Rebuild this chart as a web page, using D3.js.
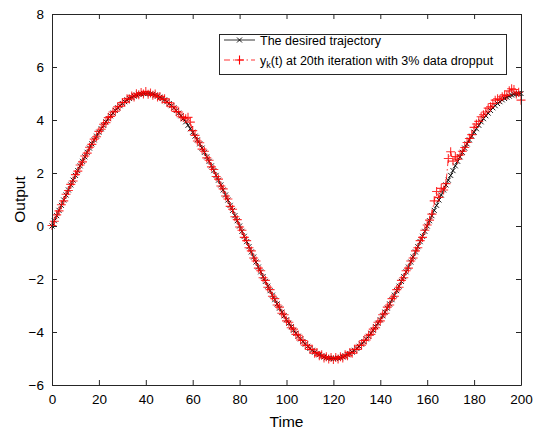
<!DOCTYPE html>
<html>
<head>
<meta charset="utf-8">
<script src="https://cdn.jsdelivr.net/npm/d3@7"></script>
<style>
  html, body { margin: 0; padding: 0; background: #fff; }
  svg { display: block; font-family: "Liberation Sans", Arial, sans-serif; }
</style>
</head>
<body>
<svg id="chart" width="533" height="433"></svg>
<script>
// time axis 0..200, one sample per step
const timeSteps = d3.range(0, 201);

const desired = [
    0, 0.20, 0.39, 0.59, 0.78, 0.98, 1.17, 1.36, 1.55, 1.73,
    1.91, 2.09, 2.27, 2.44, 2.61, 2.78, 2.94, 3.10, 3.25, 3.39,
    3.54, 3.67, 3.80, 3.93, 4.05, 4.16, 4.26, 4.36, 4.46, 4.54,
    4.62, 4.69, 4.76, 4.81, 4.86, 4.90, 4.94, 4.97, 4.98, 5.00, 5.00,
    5.00, 4.98, 4.97, 4.94, 4.90, 4.86, 4.81, 4.76, 4.69, 4.62,
    4.54, 4.46, 4.36, 4.26, 4.16, 4.05, 3.93, 3.80, 3.67, 3.54,
    3.39, 3.25, 3.10, 2.94, 2.78, 2.61, 2.44, 2.27, 2.09, 1.91,
    1.73, 1.55, 1.36, 1.17, 0.98, 0.78, 0.59, 0.39, 0.20, 0,
    -0.20, -0.39, -0.59, -0.78, -0.98, -1.17, -1.36, -1.55, -1.73, -1.91,
    -2.09, -2.27, -2.44, -2.61, -2.78, -2.94, -3.10, -3.25, -3.39, -3.54,
    -3.67, -3.80, -3.93, -4.05, -4.16, -4.26, -4.36, -4.46, -4.54, -4.62,
    -4.69, -4.76, -4.81, -4.86, -4.90, -4.94, -4.97, -4.98, -5.00, -5.00,
    -5.00, -4.98, -4.97, -4.94, -4.90, -4.86, -4.81, -4.76, -4.69, -4.62,
    -4.54, -4.46, -4.36, -4.26, -4.16, -4.05, -3.93, -3.80, -3.67, -3.54,
    -3.39, -3.25, -3.10, -2.94, -2.78, -2.61, -2.44, -2.27, -2.09, -1.91,
    -1.73, -1.55, -1.36, -1.17, -0.98, -0.78, -0.59, -0.39, -0.20, 0,
    0.20, 0.39, 0.59, 0.78, 0.98, 1.17, 1.36, 1.55, 1.73, 1.91,
    2.09, 2.27, 2.44, 2.61, 2.78, 2.94, 3.10, 3.25, 3.39, 3.54,
    3.67, 3.80, 3.93, 4.05, 4.16, 4.26, 4.36, 4.46, 4.54, 4.62,
    4.69, 4.76, 4.81, 4.86, 4.90, 4.94, 4.97, 4.98, 5.00, 5.00
];

// output at 20th iteration (3% data dropout)
const output20 = [
    0.02, 0.18, 0.42, 0.57, 0.80, 0.95, 1.20, 1.34, 1.57, 1.70,
    1.94, 2.07, 2.30, 2.42, 2.64, 2.75, 2.97, 3.08, 3.28, 3.37,
    3.57, 3.65, 3.84, 3.90, 4.09, 4.13, 4.30, 4.33, 4.50, 4.52,
    4.66, 4.67, 4.80, 4.79, 4.91, 4.87, 4.99, 4.95, 5.04, 4.98, 5.08,
    4.97, 5.02, 4.93, 4.98, 4.87, 4.89, 4.78, 4.80, 4.66, 4.65,
    4.50, 4.49, 4.32, 4.30, 4.12, 4.09, 4.05, 4.10, 3.92, 3.60,
    3.42, 3.21, 3.14, 2.90, 2.82, 2.57, 2.48, 2.23, 2.13, 1.87,
    1.77, 1.51, 1.40, 1.13, 1.02, 0.74, 0.63, 0.35, 0.24, -0.04,
    -0.16, -0.43, -0.55, -0.82, -0.94, -1.21, -1.32, -1.59, -1.69, -1.95,
    -2.05, -2.31, -2.40, -2.65, -2.74, -2.98, -3.06, -3.29, -3.35, -3.58,
    -3.63, -3.84, -3.89, -4.09, -4.12, -4.30, -4.32, -4.50, -4.50, -4.66,
    -4.65, -4.80, -4.77, -4.90, -4.86, -4.98, -4.93, -5.02, -4.96, -5.04,
    -4.96, -5.02, -4.93, -4.98, -4.86, -4.90, -4.77, -4.80, -4.65, -4.66,
    -4.50, -4.50, -4.32, -4.30, -4.12, -4.09, -3.89, -3.84, -3.63, -3.58,
    -3.35, -3.29, -3.06, -2.98, -2.74, -2.65, -2.40, -2.31, -2.05, -1.95,
    -1.69, -1.59, -1.32, -1.21, -0.94, -0.82, -0.55, -0.43, -0.16, 0.04,
    0.22, 0.45, 0.95, 1.30, 1.08, 1.42, 1.36, 1.60, 2.55, 2.80,
    2.45, 2.62, 2.52, 2.68, 2.82, 2.96, 3.15, 3.30, 3.45, 3.72,
    3.85, 3.95, 4.12, 4.20, 4.30, 4.45, 4.50, 4.62, 4.75, 4.80,
    4.78, 4.88, 4.95, 4.92, 5.10, 5.18, 5.15, 4.98, 5.05, 4.75
];

const xTicks = [0, 20, 40, 60, 80, 100, 120, 140, 160, 180, 200];
const yTicks = [-6, -4, -2, 0, 2, 4, 6, 8];
const legendLabels = ["The desired trajectory", "y", "k", "(t) at 20th iteration with 3% data dropput"];

const svg = d3.select('#chart');

const LEFT = 52, RIGHT = 521, TOP = 14, BOTTOM = 385;
const AXIS_COLOR = '#262626';

const x = d3.scaleLinear().domain([0, 200]).range([LEFT, RIGHT]);
const y = d3.scaleLinear().domain([-6, 8]).range([BOTTOM, TOP]);

drawSeries();
drawAxes();
drawLegend();

function drawSeries() {
    const line = d3.line()
        .x((d, i) => x(timeSteps[i]))
        .y(d => y(d));

    // desired trajectory: black solid with x markers
    svg.append('path')
        .datum(desired)
        .attr('d', line)
        .attr('fill', 'none')
        .attr('stroke', '#000')
        .attr('stroke-width', 0.8);

    const s = 2.5;
    svg.append('g').selectAll('path')
        .data(desired)
        .join('path')
        .attr('d', (d, i) => {
            const cx = x(timeSteps[i]), cy = y(d);
            return `M${cx - s},${cy - s}L${cx + s},${cy + s}M${cx - s},${cy + s}L${cx + s},${cy - s}`;
        })
        .attr('stroke', '#000')
        .attr('stroke-width', 0.9)
        .attr('fill', 'none');

    // 20th iteration: red dash-dot with + markers
    svg.append('path')
        .datum(output20)
        .attr('d', line)
        .attr('fill', 'none')
        .attr('stroke', '#f00')
        .attr('stroke-width', 0.8)
        .attr('stroke-dasharray', '6,3,1.5,3');

    const r = 4.5;
    svg.append('g').selectAll('path')
        .data(output20)
        .join('path')
        .attr('d', (d, i) => {
            const cx = x(timeSteps[i]), cy = y(d);
            return `M${cx - r},${cy}L${cx + r},${cy}M${cx},${cy - r}L${cx},${cy + r}`;
        })
        .attr('stroke', '#f00')
        .attr('stroke-opacity', 0.8)
        .attr('stroke-width', 1.1)
        .attr('fill', 'none');
}

function drawAxes() {
    const style = g => {
        g.selectAll('.domain').attr('stroke', AXIS_COLOR);
        g.selectAll('.tick line').attr('stroke', AXIS_COLOR);
        g.selectAll('.tick text')
            .attr('fill', '#000')
            .attr('font-size', 13.5)
            .attr('font-family', '"Liberation Sans", Arial, sans-serif');
    };

    svg.append('g')
        .attr('transform', `translate(0,${BOTTOM})`)
        .call(d3.axisBottom(x).tickValues(xTicks).tickSizeInner(-5).tickSizeOuter(0).tickPadding(9))
        .call(style);

    svg.append('g')
        .attr('transform', `translate(0,${TOP})`)
        .call(d3.axisTop(x).tickValues(xTicks).tickSizeInner(-5).tickSizeOuter(0).tickFormat(''))
        .call(style);

    svg.append('g')
        .attr('transform', `translate(${LEFT},0)`)
        .call(d3.axisLeft(y).tickValues(yTicks).tickSizeInner(-5).tickSizeOuter(0).tickPadding(8))
        .call(style);

    svg.append('g')
        .attr('transform', `translate(${RIGHT},0)`)
        .call(d3.axisRight(y).tickValues(yTicks).tickSizeInner(-5).tickSizeOuter(0).tickFormat(''))
        .call(style);

    svg.append('text')
        .text('Time')
        .attr('x', (LEFT + RIGHT) / 2)
        .attr('y', 427)
        .attr('text-anchor', 'middle')
        .attr('font-size', 15.5)
        .attr('fill', '#000');

    svg.append('text')
        .text('Output')
        .attr('transform', `translate(25,${(TOP + BOTTOM) / 2}) rotate(-90)`)
        .attr('text-anchor', 'middle')
        .attr('font-size', 15.5)
        .attr('fill', '#000');
}

function drawLegend() {
    const g = svg.append('g');
    g.append('rect')
        .attr('x', 219.5).attr('y', 34.5)
        .attr('width', 287).attr('height', 40)
        .attr('fill', '#fff')
        .attr('stroke', AXIS_COLOR)
        .attr('stroke-width', 1);

    const row1 = 40, row2 = 60;
    const lx0 = 224, lx1 = 255, mx = 239.5;

    g.append('line')
        .attr('x1', lx0).attr('x2', lx1).attr('y1', row1).attr('y2', row1)
        .attr('stroke', '#000').attr('stroke-width', 0.8);
    g.append('path')
        .attr('d', `M${mx - 2.5},${row1 - 2.5}L${mx + 2.5},${row1 + 2.5}M${mx - 2.5},${row1 + 2.5}L${mx + 2.5},${row1 - 2.5}`)
        .attr('stroke', '#000').attr('stroke-width', 0.9);

    g.append('line')
        .attr('x1', lx0).attr('x2', lx1).attr('y1', row2).attr('y2', row2)
        .attr('stroke', '#f00').attr('stroke-width', 0.8)
        .attr('stroke-dasharray', '6,3,1.5,3');
    g.append('path')
        .attr('d', `M${mx - 4.5},${row2}L${mx + 4.5},${row2}M${mx},${row2 - 4.5}L${mx},${row2 + 4.5}`)
        .attr('stroke', '#f00').attr('stroke-width', 1.1);

    g.append('text')
        .text(legendLabels[0])
        .attr('x', 260).attr('y', row1 + 4.5)
        .attr('font-size', 12.5)
        .attr('fill', '#000');

    const t2 = g.append('text')
        .attr('x', 260).attr('y', row2 + 4.5)
        .attr('font-size', 12.5)
        .attr('fill', '#000');
    t2.append('tspan').text(legendLabels[1]);
    t2.append('tspan').text(legendLabels[2]).attr('font-size', 9).attr('dy', 3);
    t2.append('tspan').text(legendLabels[3]).attr('dy', -3);
}
</script>
</body>
</html>
